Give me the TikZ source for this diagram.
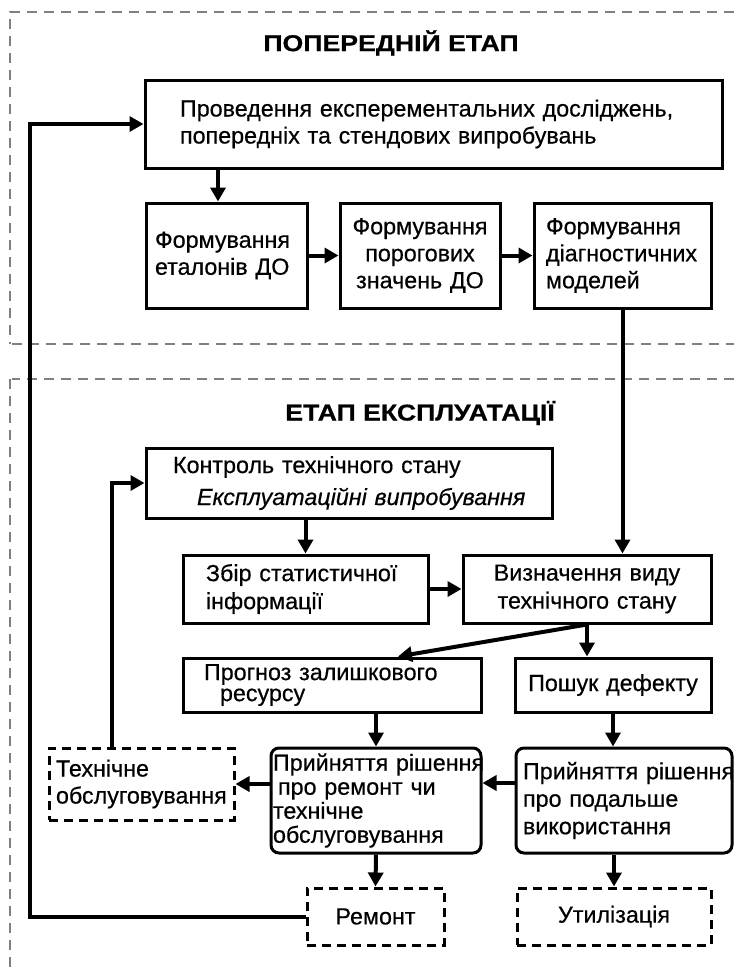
\documentclass[tikz,border=0pt]{standalone}
\usepackage{fontspec}
\setmainfont{Liberation Sans}[FakeBold=0.5]
\usetikzlibrary{arrows.meta}
\begin{document}
\begin{tikzpicture}[x=1pt,y=-1pt,
  box/.style={draw, line width=3pt, align=left, inner ysep=0pt, font=\fontsize{23.3}{27}\selectfont},
  rbox/.style={box, rounded corners=8pt},
  dbox/.style={box, dash pattern=on 9pt off 6pt},
  conn/.style={line width=4pt, -{Triangle[length=14pt,width=15pt]}},
  frameline/.style={draw=gray, line width=1.5pt, dash pattern=on 10pt off 7pt},
  titletext/.style={font=\fontsize{23}{28}\selectfont\bfseries}]
\useasboundingbox (0,0) rectangle (734,974);
% frames
\draw[frameline] (734,12) -- (10,12) -- (10,344);
\draw[frameline] (12,344) -- (734,344);
\draw[frameline] (734,379) -- (12,379);
\draw[frameline] (10,379) -- (10,974);
% titles
\node[titletext] (t1) at (391,43) {\scalebox{1.16}[1]{ПОПЕРЕДНІЙ ЕТАП}};
\node[titletext] (t2) at (420,413) {\scalebox{1.16}[1]{ЕТАП ЕКСПЛУАТАЦІЇ}};
% boxes
\node[box, inner xsep=35pt, text width=507pt, minimum height=88pt] (top) at (433.5,124)
  {\mbox{Проведення експерементальних досліджень,}\\\mbox{попередніх та стендових випробувань}};
\node[box, inner xsep=9pt, text width=143pt, minimum height=105pt] (A) at (226.5,255.5)
  {Формування\\еталонів ДО};
\node[box, align=center, inner xsep=4pt, text width=152pt, minimum height=105pt] (B) at (420,255.5)
  {Формування\\порогових\\значень ДО};
\node[box, inner xsep=12pt, text width=153pt, minimum height=105pt] (C) at (622.5,255.5)
  {\mbox{Формування}\\\mbox{діагностичних}\\моделей};
\node[box, inner xsep=27pt, text width=352pt, minimum height=70pt, font=\fontsize{23.3}{32}\selectfont] (K) at (349,483)
  {\mbox{Контроль технічного стану}\\\hspace*{24pt}\mbox{\textit{Експлуатаційні випробування}}};
\node[box, inner xsep=23pt, text width=199pt, minimum height=68pt, font=\fontsize{23.3}{28}\selectfont] (Z) at (305.5,589)
  {\mbox{Збір статистичної}\\інформації};
\node[box, align=center, inner xsep=5pt, text width=238pt, minimum height=68pt, font=\fontsize{23.3}{28}\selectfont] (V) at (587,589)
  {\mbox{Визначення виду}\\\mbox{технічного стану}};
\node[box, inner xsep=21pt, text width=256pt, minimum height=54pt, font=\fontsize{23.3}{21}\selectfont] (G) at (332,685)
  {\mbox{Прогноз залишкового}\\\hspace*{16pt}ресурсу};
\node[box, align=center, inner xsep=5pt, text width=186pt, minimum height=54pt] (P) at (613,685)
  {\mbox{Пошук дефекту}};
\node[rbox, inner xsep=2pt, text width=206pt, minimum height=105pt, font=\fontsize{23.3}{24}\selectfont] (Pr1) at (376,800.5)
  {\mbox{Прийняття рішення}\\\hspace*{5pt}\mbox{про ремонт чи}\\технічне\\обслуговування};
\node[rbox, inner xsep=7pt, text width=202pt, minimum height=105pt, font=\fontsize{23.3}{27.5}\selectfont] (Pr2) at (624,800.5)
  {\mbox{Прийняття рішення}\\\mbox{про подальше}\\використання};
\node[dbox, inner xsep=7pt, text width=171pt, minimum height=72pt] (TO) at (141.5,784)
  {Технічне\\обслуговування};
\node[dbox, align=center, inner xsep=5pt, text width=127pt, minimum height=57pt] (Rem) at (375.5,916.5)
  {Ремонт};
\node[dbox, align=center, inner xsep=5pt, text width=184pt, minimum height=57pt] (Ut) at (614,916.5)
  {Утилізація};
% helper coordinates
\coordinate (fbx) at (30,0);
\coordinate (ax) at (218,0);
\coordinate (tkx) at (112,0);
\coordinate (gx) at (398,0);
\coordinate (hy) at (0,783);
% connectors
\draw[conn] (Rem.west) -- (Rem.west -| fbx) |- (top.west);
\draw[conn] (top.south -| ax) -- (A.north -| ax);
\draw[conn] (A.east) -- (B.west);
\draw[conn] (B.east) -- (C.west);
\draw[conn] (C.south) -- (C.south |- V.north);
\draw[conn] (TO.north -| tkx) |- (K.west);
\draw[conn] (K.south -| Z.north) -- (Z.north);
\draw[conn] (Z.east) -- (V.west);
\draw[conn] (V.south) -- (V.south |- P.north);
\draw[conn] (V.south) -- (G.north -| gx);
\draw[conn] (Pr1.north |- G.south) -- (Pr1.north);
\draw[conn] (P.south) -- (P.south |- Pr2.north);
\draw[conn] (Pr2.west |- hy) -- (Pr1.east |- hy);
\draw[conn] (Pr1.west |- TO.east) -- (TO.east);
\draw[conn] (Pr1.south) -- (Rem.north);
\draw[conn] (Ut.north |- Pr2.south) -- (Ut.north);
\end{tikzpicture}
\end{document}
